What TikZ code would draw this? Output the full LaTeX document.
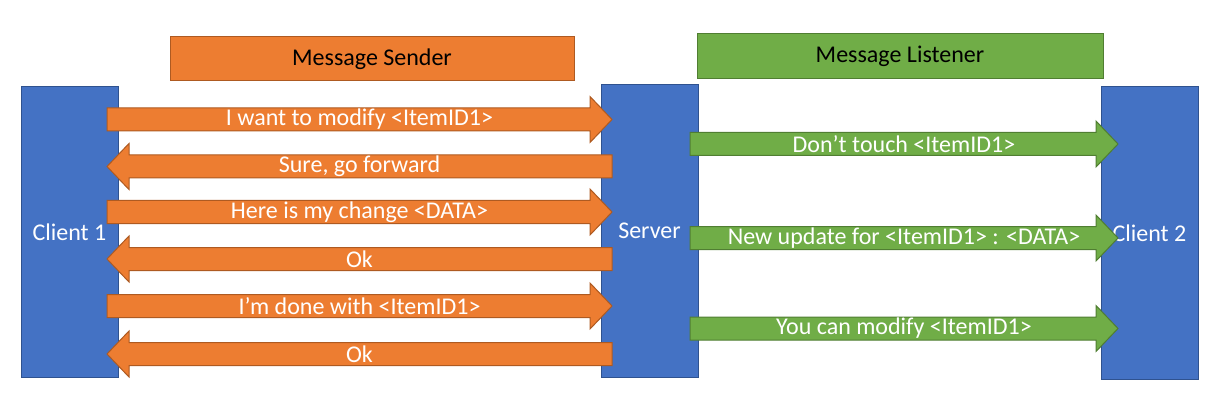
\documentclass[tikz,border=0pt]{standalone}
\usepackage{fontspec}
\setmainfont{Carlito}
\definecolor{oran}{HTML}{ED7D31}
\definecolor{oranb}{HTML}{AE5A21}
\definecolor{blu}{HTML}{4472C4}
\definecolor{blub}{HTML}{2F528F}
\definecolor{grn}{HTML}{70AD47}
\definecolor{grnb}{HTML}{507E32}
\newcommand\rarrowshape[5]{% style, x1, x2, y, name/text
  \draw[#1] (#2,{#4-11.5}) -- ({#3-22},{#4-11.5}) -- ({#3-22},{#4-23}) -- (#3,#4)
    -- ({#3-22},{#4+23}) -- ({#3-22},{#4+11.5}) -- (#2,{#4+11.5}) -- cycle;}
\newcommand\larrowshape[5]{% style, x1(tip), x2(tail), y
  \draw[#1] (#3,{#4-11.5}) -- ({#2+22},{#4-11.5}) -- ({#2+22},{#4-23}) -- (#2,#4)
    -- ({#2+22},{#4+23}) -- ({#2+22},{#4+11.5}) -- (#3,{#4+11.5}) -- cycle;}
\begin{document}
\begin{tikzpicture}[x=1pt,y=-1pt,
  every node/.style={font=\fontsize{24}{28}\selectfont, inner sep=0pt},
  bluebox/.style={draw=blub, fill=blu, line width=1pt, text=white},
  headsend/.style={draw=oranb, fill=oran, line width=1pt, text=black},
  headlist/.style={draw=grnb, fill=grn, line width=1pt, text=black},
  orangearr/.style={draw=oranb, fill=oran, line width=1pt},
  greenarr/.style={draw=grnb, fill=grn, line width=1pt},
  msg/.style={text=white}]
\useasboundingbox (0,0) rectangle (1227,401);
% header boxes
\node[headsend, minimum width=404, minimum height=44] (hs) at (372,59) {Message Sender};
\node[headlist, minimum width=406, minimum height=45] (hl) at (900,56.5) {Message Listener};
% participants
\node[bluebox, minimum width=97, minimum height=290] (c1) at (69.5,232) {Client 1};
\node[bluebox, minimum width=97, minimum height=292] (srv) at (649.5,231) {Server};
\node[bluebox, minimum width=97, minimum height=292] (c2) at (1149.5,233) {Client 2};
% orange arrows (client 1 <-> server)
\rarrowshape{orangearr}{107}{612}{119.5}{}
\node[msg] (m1) at (359.5,119.5) {I want to modify <ItemID1>};
\larrowshape{orangearr}{107}{612}{166.5}{}
\node[msg] (m2) at (359.5,166.5) {Sure, go forward};
\rarrowshape{orangearr}{107}{612}{212}{}
\node[msg] (m3) at (359.5,212) {Here is my change <DATA>};
\larrowshape{orangearr}{107}{612}{259}{}
\node[msg] (m4) at (359.5,259) {Ok};
\rarrowshape{orangearr}{107}{612}{306}{}
\node[msg] (m5) at (359.5,306) {I’m done with <ItemID1>};
\larrowshape{orangearr}{107}{612}{354}{}
\node[msg] (m6) at (359.5,354) {Ok};
% green arrows (server -> client 2)
\rarrowshape{greenarr}{690}{1118}{144}{}
\node[msg] (g1) at (904,144) {Don’t touch <ItemID1>};
\rarrowshape{greenarr}{690}{1118}{238}{}
\node[msg] (g2) at (904,238) {New update for <ItemID1> : <DATA>};
\rarrowshape{greenarr}{690}{1118}{328.5}{}
\node[msg] (g3) at (904,328.5) {You can modify <ItemID1>};
\end{tikzpicture}
\end{document}
